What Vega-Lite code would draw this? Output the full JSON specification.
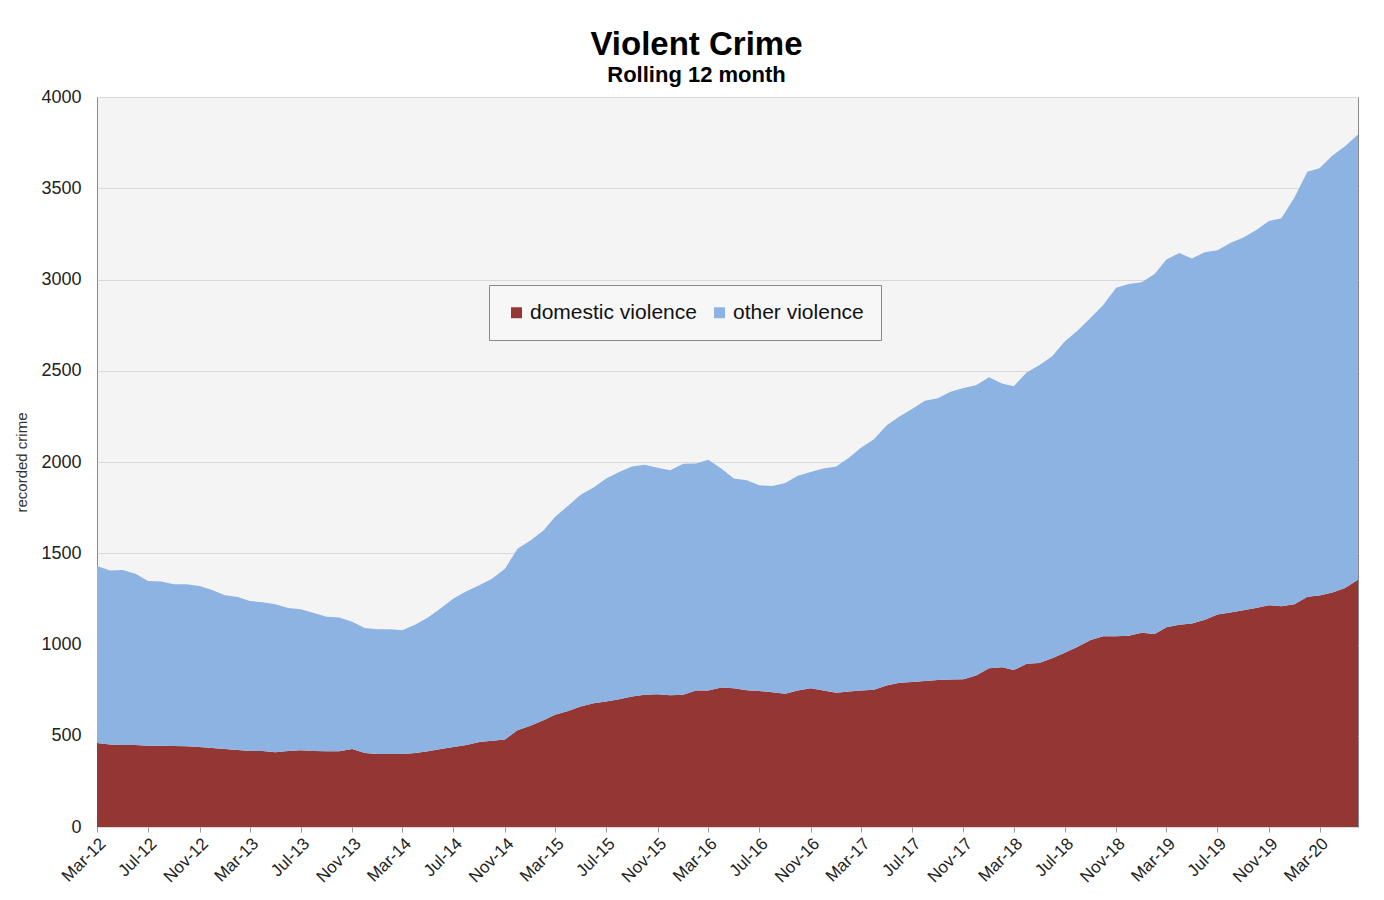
{
  "$schema": "https://vega.github.io/schema/vega-lite/v6.json",
  "autosize": {"type": "none"},
  "width": 1261,
  "height": 730,
  "padding": {"left": 97, "top": 97, "right": 26, "bottom": 73},
  "background": "#ffffff",
  "config": {
    "font": "Liberation Sans",
    "view": {"fill": "#f4f4f4", "stroke": "#888888", "strokeWidth": 1}
  },
  "title": {
    "text": "Violent Crime",
    "subtitle": "Rolling 12 month",
    "anchor": "middle",
    "frame": "group",
    "dx": -31,
    "offset": 2,
    "fontSize": 33,
    "fontWeight": "bold",
    "color": "#000000",
    "subtitleFontSize": 22,
    "subtitleFontWeight": "bold",
    "subtitleColor": "#000000",
    "subtitlePadding": 3
  },
  "data": {
    "values": [
      {"date": "2012-03-01", "domestic violence": 460, "other violence": 970},
      {"date": "2012-04-01", "domestic violence": 452, "other violence": 953},
      {"date": "2012-05-01", "domestic violence": 450, "other violence": 958},
      {"date": "2012-06-01", "domestic violence": 450, "other violence": 938},
      {"date": "2012-07-01", "domestic violence": 445, "other violence": 903},
      {"date": "2012-08-01", "domestic violence": 445, "other violence": 900},
      {"date": "2012-09-01", "domestic violence": 444, "other violence": 886},
      {"date": "2012-10-01", "domestic violence": 443, "other violence": 887},
      {"date": "2012-11-01", "domestic violence": 438, "other violence": 882},
      {"date": "2012-12-01", "domestic violence": 433, "other violence": 865},
      {"date": "2013-01-01", "domestic violence": 427, "other violence": 843},
      {"date": "2013-02-01", "domestic violence": 422, "other violence": 838},
      {"date": "2013-03-01", "domestic violence": 416, "other violence": 822},
      {"date": "2013-04-01", "domestic violence": 416, "other violence": 816},
      {"date": "2013-05-01", "domestic violence": 410, "other violence": 810},
      {"date": "2013-06-01", "domestic violence": 416, "other violence": 784},
      {"date": "2013-07-01", "domestic violence": 420, "other violence": 773},
      {"date": "2013-08-01", "domestic violence": 416, "other violence": 756},
      {"date": "2013-09-01", "domestic violence": 415, "other violence": 737},
      {"date": "2013-10-01", "domestic violence": 415, "other violence": 733},
      {"date": "2013-11-01", "domestic violence": 428, "other violence": 697},
      {"date": "2013-12-01", "domestic violence": 405, "other violence": 685},
      {"date": "2014-01-01", "domestic violence": 400, "other violence": 683},
      {"date": "2014-02-01", "domestic violence": 400, "other violence": 683},
      {"date": "2014-03-01", "domestic violence": 400, "other violence": 678},
      {"date": "2014-04-01", "domestic violence": 405, "other violence": 705},
      {"date": "2014-05-01", "domestic violence": 415, "other violence": 733},
      {"date": "2014-06-01", "domestic violence": 427, "other violence": 771},
      {"date": "2014-07-01", "domestic violence": 438, "other violence": 814},
      {"date": "2014-08-01", "domestic violence": 450, "other violence": 842},
      {"date": "2014-09-01", "domestic violence": 466, "other violence": 859},
      {"date": "2014-10-01", "domestic violence": 472, "other violence": 888},
      {"date": "2014-11-01", "domestic violence": 480, "other violence": 935},
      {"date": "2014-12-01", "domestic violence": 530, "other violence": 995},
      {"date": "2015-01-01", "domestic violence": 555, "other violence": 1015},
      {"date": "2015-02-01", "domestic violence": 585, "other violence": 1040},
      {"date": "2015-03-01", "domestic violence": 615, "other violence": 1085},
      {"date": "2015-04-01", "domestic violence": 635, "other violence": 1125},
      {"date": "2015-05-01", "domestic violence": 660, "other violence": 1160},
      {"date": "2015-06-01", "domestic violence": 678, "other violence": 1182},
      {"date": "2015-07-01", "domestic violence": 688, "other violence": 1222},
      {"date": "2015-08-01", "domestic violence": 700, "other violence": 1245},
      {"date": "2015-09-01", "domestic violence": 715, "other violence": 1260},
      {"date": "2015-10-01", "domestic violence": 725, "other violence": 1260},
      {"date": "2015-11-01", "domestic violence": 728, "other violence": 1240},
      {"date": "2015-12-01", "domestic violence": 722, "other violence": 1233},
      {"date": "2016-01-01", "domestic violence": 725, "other violence": 1265},
      {"date": "2016-02-01", "domestic violence": 748, "other violence": 1244},
      {"date": "2016-03-01", "domestic violence": 748, "other violence": 1264},
      {"date": "2016-04-01", "domestic violence": 765, "other violence": 1200},
      {"date": "2016-05-01", "domestic violence": 760, "other violence": 1150},
      {"date": "2016-06-01", "domestic violence": 750, "other violence": 1150},
      {"date": "2016-07-01", "domestic violence": 745, "other violence": 1127},
      {"date": "2016-08-01", "domestic violence": 738, "other violence": 1130},
      {"date": "2016-09-01", "domestic violence": 730, "other violence": 1155},
      {"date": "2016-10-01", "domestic violence": 748, "other violence": 1177},
      {"date": "2016-11-01", "domestic violence": 760, "other violence": 1185},
      {"date": "2016-12-01", "domestic violence": 748, "other violence": 1217},
      {"date": "2017-01-01", "domestic violence": 735, "other violence": 1240},
      {"date": "2017-02-01", "domestic violence": 742, "other violence": 1283},
      {"date": "2017-03-01", "domestic violence": 748, "other violence": 1330},
      {"date": "2017-04-01", "domestic violence": 752, "other violence": 1373},
      {"date": "2017-05-01", "domestic violence": 775, "other violence": 1425},
      {"date": "2017-06-01", "domestic violence": 790, "other violence": 1460},
      {"date": "2017-07-01", "domestic violence": 795, "other violence": 1495},
      {"date": "2017-08-01", "domestic violence": 800, "other violence": 1535},
      {"date": "2017-09-01", "domestic violence": 805, "other violence": 1545},
      {"date": "2017-10-01", "domestic violence": 808, "other violence": 1577},
      {"date": "2017-11-01", "domestic violence": 810, "other violence": 1595},
      {"date": "2017-12-01", "domestic violence": 830, "other violence": 1590},
      {"date": "2018-01-01", "domestic violence": 870, "other violence": 1595},
      {"date": "2018-02-01", "domestic violence": 875, "other violence": 1555},
      {"date": "2018-03-01", "domestic violence": 860, "other violence": 1555},
      {"date": "2018-04-01", "domestic violence": 895, "other violence": 1595},
      {"date": "2018-05-01", "domestic violence": 898, "other violence": 1632},
      {"date": "2018-06-01", "domestic violence": 925, "other violence": 1655},
      {"date": "2018-07-01", "domestic violence": 955, "other violence": 1705},
      {"date": "2018-08-01", "domestic violence": 988, "other violence": 1732},
      {"date": "2018-09-01", "domestic violence": 1025, "other violence": 1765},
      {"date": "2018-10-01", "domestic violence": 1045, "other violence": 1815},
      {"date": "2018-11-01", "domestic violence": 1045, "other violence": 1910},
      {"date": "2018-12-01", "domestic violence": 1048, "other violence": 1927},
      {"date": "2019-01-01", "domestic violence": 1065, "other violence": 1920},
      {"date": "2019-02-01", "domestic violence": 1058, "other violence": 1972},
      {"date": "2019-03-01", "domestic violence": 1095, "other violence": 2015},
      {"date": "2019-04-01", "domestic violence": 1108, "other violence": 2037},
      {"date": "2019-05-01", "domestic violence": 1115, "other violence": 2000},
      {"date": "2019-06-01", "domestic violence": 1135, "other violence": 2015},
      {"date": "2019-07-01", "domestic violence": 1165, "other violence": 1995},
      {"date": "2019-08-01", "domestic violence": 1175, "other violence": 2025},
      {"date": "2019-09-01", "domestic violence": 1188, "other violence": 2042},
      {"date": "2019-10-01", "domestic violence": 1200, "other violence": 2070},
      {"date": "2019-11-01", "domestic violence": 1215, "other violence": 2105},
      {"date": "2019-12-01", "domestic violence": 1210, "other violence": 2125},
      {"date": "2020-01-01", "domestic violence": 1220, "other violence": 2230},
      {"date": "2020-02-01", "domestic violence": 1262, "other violence": 2328},
      {"date": "2020-03-01", "domestic violence": 1268, "other violence": 2342},
      {"date": "2020-04-01", "domestic violence": 1285, "other violence": 2395},
      {"date": "2020-05-01", "domestic violence": 1310, "other violence": 2420},
      {"date": "2020-06-01", "domestic violence": 1355, "other violence": 2440}
    ]
  },
  "transform": [
    {"fold": ["domestic violence", "other violence"], "as": ["type", "count"]}
  ],
  "mark": {"type": "area", "interpolate": "linear"},
  "encoding": {
    "x": {
      "field": "date",
      "type": "temporal",
      "scale": {
        "type": "utc",
        "nice": false,
        "domain": [
          {"year": 2012, "month": 3, "date": 1, "utc": true},
          {"year": 2020, "month": 6, "date": 1, "utc": true}
        ]
      },
      "axis": {
        "title": null,
        "format": "%b-%y",
        "values": [
          {"year": 2012, "month": 3, "date": 1, "utc": true},
          {"year": 2012, "month": 7, "date": 1, "utc": true},
          {"year": 2012, "month": 11, "date": 1, "utc": true},
          {"year": 2013, "month": 3, "date": 1, "utc": true},
          {"year": 2013, "month": 7, "date": 1, "utc": true},
          {"year": 2013, "month": 11, "date": 1, "utc": true},
          {"year": 2014, "month": 3, "date": 1, "utc": true},
          {"year": 2014, "month": 7, "date": 1, "utc": true},
          {"year": 2014, "month": 11, "date": 1, "utc": true},
          {"year": 2015, "month": 3, "date": 1, "utc": true},
          {"year": 2015, "month": 7, "date": 1, "utc": true},
          {"year": 2015, "month": 11, "date": 1, "utc": true},
          {"year": 2016, "month": 3, "date": 1, "utc": true},
          {"year": 2016, "month": 7, "date": 1, "utc": true},
          {"year": 2016, "month": 11, "date": 1, "utc": true},
          {"year": 2017, "month": 3, "date": 1, "utc": true},
          {"year": 2017, "month": 7, "date": 1, "utc": true},
          {"year": 2017, "month": 11, "date": 1, "utc": true},
          {"year": 2018, "month": 3, "date": 1, "utc": true},
          {"year": 2018, "month": 7, "date": 1, "utc": true},
          {"year": 2018, "month": 11, "date": 1, "utc": true},
          {"year": 2019, "month": 3, "date": 1, "utc": true},
          {"year": 2019, "month": 7, "date": 1, "utc": true},
          {"year": 2019, "month": 11, "date": 1, "utc": true},
          {"year": 2020, "month": 3, "date": 1, "utc": true}
        ],
        "labelAngle": -45,
        "labelAlign": "right",
        "labelBaseline": "top",
        "labelFontSize": 17,
        "labelColor": "#222222",
        "labelPadding": 3,
        "labelOverlap": false,
        "labelBound": false,
        "labelFlush": false,
        "grid": false,
        "domain": false,
        "ticks": true,
        "tickSize": 5,
        "tickColor": "#999999"
      }
    },
    "y": {
      "field": "count",
      "type": "quantitative",
      "stack": "zero",
      "scale": {"domain": [0, 4000], "nice": false},
      "axis": {
        "title": "recorded crime",
        "titleFontSize": 15,
        "titleFontWeight": "normal",
        "titleColor": "#333333",
        "titlePadding": 11,
        "format": "d",
        "values": [0, 500, 1000, 1500, 2000, 2500, 3000, 3500, 4000],
        "labelFontSize": 18,
        "labelColor": "#222222",
        "labelPadding": 16,
        "ticks": false,
        "domain": false,
        "grid": true,
        "gridColor": "#d9d9d9",
        "gridWidth": 1
      }
    },
    "color": {
      "field": "type",
      "type": "nominal",
      "scale": {
        "domain": ["domestic violence", "other violence"],
        "range": ["#943634", "#8db3e2"]
      },
      "legend": {
        "title": null,
        "orient": "none",
        "legendX": 392,
        "legendY": 188,
        "direction": "horizontal",
        "columns": 2,
        "symbolType": "square",
        "symbolSize": 120,
        "symbolOpacity": 1,
        "labelFontSize": 21,
        "labelLimit": 0,
        "labelColor": "#111111",
        "labelOffset": 3,
        "columnPadding": 12,
        "padding": 17,
        "fillColor": "#f7f7f7",
        "strokeColor": "#888888"
      }
    },
    "order": {"field": "type", "sort": "ascending"}
  }
}
